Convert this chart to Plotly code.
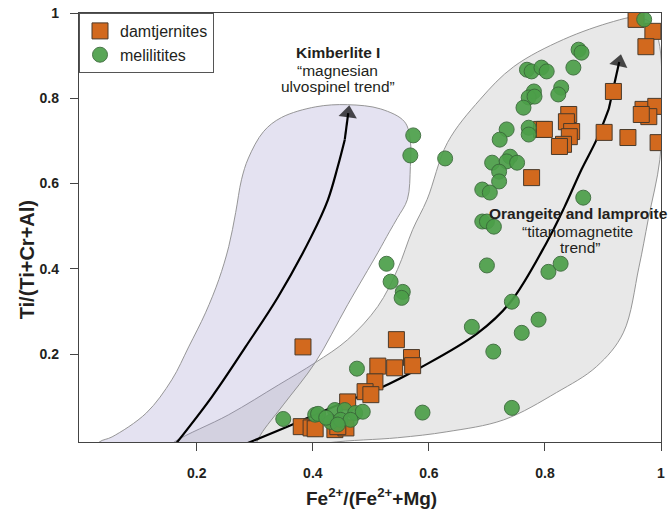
import plotly.graph_objects as go

# ---------------- data ----------------
dam_x = [0.957, 0.986, 0.974, 0.918, 0.969, 0.991, 0.979, 0.966, 0.841, 0.837, 0.846, 0.842,
         0.832, 0.825, 0.794, 0.799, 0.902, 0.943, 0.995, 0.777, 0.383, 0.544, 0.512, 0.541,
         0.570, 0.572, 0.507, 0.490, 0.500, 0.460, 0.380, 0.397, 0.404, 0.438, 0.457, 0.443]
dam_y = [0.985, 0.957, 0.921, 0.816, 0.774, 0.781, 0.757, 0.762, 0.762, 0.745, 0.722, 0.710,
         0.692, 0.687, 0.727, 0.727, 0.720, 0.708, 0.696, 0.614, 0.217, 0.234, 0.172, 0.168,
         0.192, 0.173, 0.135, 0.112, 0.105, 0.088, 0.030, 0.027, 0.025, 0.023, 0.027, 0.030]

mel_x = [0.971, 0.858, 0.863, 0.769, 0.777, 0.794, 0.803, 0.849, 0.781, 0.772, 0.782, 0.763,
         0.828, 0.823, 0.734, 0.722, 0.772, 0.772, 0.573, 0.568, 0.628, 0.709, 0.740, 0.734,
         0.752, 0.721, 0.721, 0.692, 0.705, 0.866, 0.692, 0.700, 0.712, 0.700, 0.806, 0.827,
         0.743, 0.674, 0.760, 0.789, 0.711, 0.476, 0.589, 0.743, 0.527, 0.534, 0.555, 0.553,
         0.349, 0.404, 0.409, 0.438, 0.455, 0.473, 0.486, 0.431, 0.448, 0.465, 0.423, 0.443]
mel_y = [0.985, 0.914, 0.907, 0.867, 0.863, 0.872, 0.863, 0.872, 0.816, 0.802, 0.804, 0.778,
         0.825, 0.809, 0.727, 0.703, 0.731, 0.715, 0.713, 0.666, 0.659, 0.649, 0.663, 0.652,
         0.649, 0.628, 0.605, 0.586, 0.579, 0.567, 0.511, 0.511, 0.499, 0.408, 0.393, 0.412,
         0.323, 0.264, 0.250, 0.281, 0.206, 0.166, 0.063, 0.074, 0.412, 0.370, 0.346, 0.332,
         0.048, 0.058, 0.060, 0.069, 0.069, 0.062, 0.065, 0.041, 0.046, 0.046, 0.051, 0.035]

# field outlines
kimb_field_x = [0.015, 0.032, 0.054, 0.113, 0.157, 0.186, 0.215, 0.238, 0.255, 0.267, 0.277,
                0.289, 0.315, 0.346, 0.405, 0.460, 0.517, 0.558, 0.568, 0.568, 0.563, 0.546,
                0.532, 0.512, 0.460, 0.404, 0.349, 0.310, 0.298]
kimb_field_y = [-0.036, -0.006, 0.006, 0.062, 0.140, 0.217, 0.297, 0.375, 0.452, 0.532, 0.609,
                0.660, 0.722, 0.755, 0.780, 0.785, 0.775, 0.745, 0.700, 0.640, 0.563, 0.520,
                0.487, 0.438, 0.316, 0.180, 0.081, 0.011, -0.024]

oran_field_x = [0.135, 0.161, 0.255, 0.341, 0.404, 0.460, 0.512, 0.546, 0.572, 0.597, 0.632,
                0.688, 0.746, 0.832, 0.918, 0.955, 0.982, 0.996, 1.002, 0.998, 0.978, 0.962,
                0.935, 0.889, 0.820, 0.729, 0.631, 0.546, 0.426, 0.300]
oran_field_y = [-0.036, -0.006, 0.058, 0.128, 0.180, 0.234, 0.312, 0.399, 0.492, 0.563, 0.696,
                0.797, 0.874, 0.938, 0.980, 0.990, 0.978, 0.935, 0.797, 0.656, 0.516, 0.404,
                0.250, 0.171, 0.110, 0.046, 0.018, 0.004, -0.008, -0.04]

# trend curves (last point = arrow tip)
kimb_trend_x = [0.164, 0.226, 0.284, 0.340, 0.397, 0.426, 0.443, 0.455, 0.461]
kimb_trend_y = [-0.01, 0.100, 0.217, 0.334, 0.475, 0.562, 0.640, 0.703, 0.765]

oran_trend_x = [0.285, 0.363, 0.443, 0.517, 0.585, 0.683, 0.740, 0.803, 0.834, 0.863, 0.889, 0.910, 0.928]
oran_trend_y = [-0.01, 0.034, 0.081, 0.121, 0.168, 0.248, 0.321, 0.462, 0.546, 0.633, 0.703, 0.775, 0.885]

x_ticks = [0.2, 0.4, 0.6, 0.8, 1.0]
x_ticktext = ["0.2", "0.4", "0.6", "0.8", "1"]
y_ticks = [0.2, 0.4, 0.6, 0.8, 1.0]
y_ticktext = ["0.2", "0.4", "0.6", "0.8", "1"]

FONT = "Liberation Sans, Arial, Helvetica, sans-serif"
TXT = "#231f20"

fig = go.Figure()

fig.add_trace(go.Scatter(x=oran_field_x, y=oran_field_y, mode="lines", fill="toself",
                         fillcolor="rgba(160,160,160,0.24)",
                         line=dict(color="rgba(140,140,140,0.9)", width=1, shape="spline", smoothing=1),
                         showlegend=False, hoverinfo="skip"))
fig.add_trace(go.Scatter(x=kimb_field_x, y=kimb_field_y, mode="lines", fill="toself",
                         fillcolor="rgba(147,139,200,0.25)",
                         line=dict(color="rgba(140,140,140,0.9)", width=1, shape="spline", smoothing=1),
                         showlegend=False, hoverinfo="skip"))

for tx, ty in [(kimb_trend_x, kimb_trend_y), (oran_trend_x, oran_trend_y)]:
    fig.add_trace(go.Scatter(x=tx[:-1], y=ty[:-1], mode="lines",
                             line=dict(color="black", width=2.2, shape="spline"),
                             showlegend=False, hoverinfo="skip"))
    # arrow head on final segment
    fig.add_trace(go.Scatter(x=tx[-2:], y=ty[-2:], mode="lines+markers",
                             line=dict(color="black", width=2.2),
                             marker=dict(symbol="triangle-up", size=[0, 16], color="black",
                                         angleref="previous", line=dict(width=0)),
                             showlegend=False, hoverinfo="skip"))

fig.add_trace(go.Scatter(x=dam_x, y=dam_y, mode="markers", name="damtjernites",
                         marker=dict(symbol="square", size=16, color="#D2691E",
                                     line=dict(color="#4a3a2a", width=1))))
fig.add_trace(go.Scatter(x=mel_x, y=mel_y, mode="markers", name="melilitites",
                         marker=dict(symbol="circle", size=15, color="#4c9f49", opacity=0.92,
                                     line=dict(color="#3a6a3a", width=1))))

labels = [
    (0.443, 0.907, "<b>Kimberlite I</b>"),
    (0.443, 0.865, "“magnesian"),
    (0.443, 0.828, "ulvospinel trend”"),
    (0.858, 0.529, "<b>Orangeite and lamproite</b>"),
    (0.856, 0.487, "“titanomagnetite"),
    (0.861, 0.449, "trend”"),
]
for lx, ly, lt in labels:
    fig.add_annotation(x=lx, y=ly, xref="x", yref="y", text=lt, showarrow=False,
                       xanchor="center", yanchor="middle",
                       font=dict(family=FONT, size=15.5, color=TXT))

# axis titles
fig.add_annotation(x=0.502, y=-0.128, xref="paper", yref="paper",
                   text="<b>Fe<sup>2+</sup>/(Fe<sup>2+</sup>+Mg)</b>", showarrow=False,
                   xanchor="center", yanchor="middle",
                   font=dict(family=FONT, size=19, color=TXT))
fig.add_annotation(x=-0.089, y=0.424, xref="paper", yref="paper",
                   text="<b>Ti/(Ti+Cr+Al)</b>", showarrow=False, textangle=-90,
                   xanchor="center", yanchor="middle",
                   font=dict(family=FONT, size=20, color=TXT))

axis_common = dict(showgrid=False, zeroline=False, showline=True, linecolor="#444",
                   linewidth=1.3, mirror=True, ticks="outside", ticklen=8, tickwidth=1.2,
                   tickcolor="#444",
                   tickfont=dict(family=FONT, size=14, color=TXT, weight="bold"))

fig.update_xaxes(range=[-0.003, 1.0], tickvals=x_ticks, ticktext=x_ticktext,
                 ticklabelstandoff=10, **axis_common)
fig.update_yaxes(range=[-0.006, 1.0], tickvals=y_ticks, ticktext=y_ticktext,
                 ticklabelstandoff=8, **axis_common)

fig.update_layout(
    width=670, height=517,
    margin=dict(l=79, r=5, t=13, b=75),
    plot_bgcolor="white", paper_bgcolor="white",
    font=dict(family=FONT, color=TXT),
    legend=dict(x=0, y=1, xanchor="left", yanchor="top", bgcolor="white",
                bordercolor="#555", borderwidth=1,
                font=dict(family=FONT, size=16, color=TXT), itemsizing="trace"),
)

fig.write_html("out.html")
